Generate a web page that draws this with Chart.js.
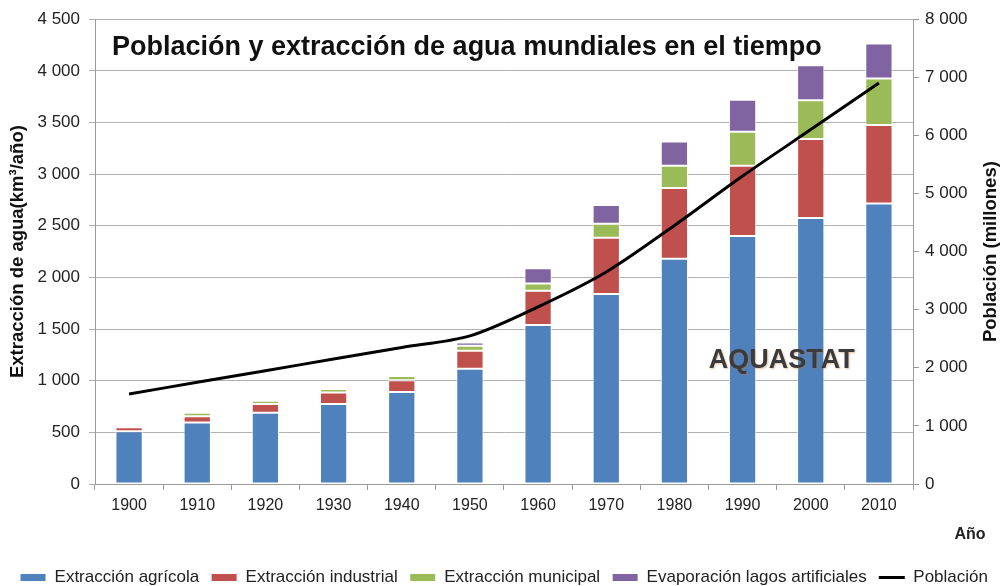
<!DOCTYPE html>
<html lang="es">
<head>
<meta charset="UTF-8">
<title>Población y extracción de agua mundiales en el tiempo</title>
<script src="https://cdn.jsdelivr.net/npm/chart.js@4.4.1/dist/chart.umd.min.js"></script>
<style>
  html, body { margin: 0; padding: 0; background: #fff; }
  #wrap { width: 1008px; height: 586px; }
</style>
</head>
<body>
<div id="wrap"><canvas id="graph" width="1008" height="586"></canvas></div>
<script>
// values (km3/año and millones)
const years = ['1900','1910','1920','1930','1940','1950','1960','1970','1980','1990','2000','2010'];
const agricola   = [510, 595, 690, 775, 890, 1115, 1540, 1840, 2180, 2400, 2575, 2715];
const industrial = [40, 60, 85, 110, 115, 176, 330, 545, 685, 680, 765, 760];
const municipal  = [0, 35, 30, 35, 40, 48, 70, 135, 215, 330, 375, 450];
const evaporacion = [0, 5, 5, 5, 5, 32, 150, 180, 235, 310, 340, 340];
const poblacion  = [1550, 1750, 1950, 2150, 2350, 2550, 3050, 3650, 4450, 5300, 6100, 6900];

const FONT = "'Liberation Sans', Arial, sans-serif";
const fmt = v => String(v).replace(/\B(?=(\d{3})+(?!\d))/g, ' ');

// title, watermark, right axis title and "Año" drawn by hand
const textPlugin = {
  id: 'extraText',
  afterInit(chart) {
    // legend adds 10px of empty space under the row, drop it
    const fit = chart.legend.fit.bind(chart.legend);
    chart.legend.fit = function () { fit(); this.height -= 10; };
  },
  afterDatasetsDraw(chart) {
    const ctx = chart.ctx, a = chart.chartArea;
    const x = chart.scales.x, y = chart.scales.y, y1 = chart.scales.y1;
    ctx.save();
    ctx.fillStyle = '#111';
    ctx.font = 'bold 27px ' + FONT;
    ctx.textBaseline = 'middle';
    ctx.textAlign = 'left';
    ctx.fillText('Población y extracción de agua mundiales en el tiempo', a.left + 17, y.getPixelForValue(4230));

    ctx.font = 'bold 27px ' + FONT;
    ctx.textAlign = 'center';
    ctx.fillStyle = '#3b3b3b';
    ctx.shadowColor = 'rgba(190,120,50,0.45)';
    ctx.shadowBlur = 2;
    ctx.shadowOffsetX = 1;
    ctx.shadowOffsetY = 1;
    const ax = (x.getPixelForValue(9) + x.getPixelForValue(10)) / 2 + 5;
    ctx.fillText('AQUASTAT', ax, y.getPixelForValue(1200));
    ctx.restore();

    ctx.save();
    ctx.font = 'bold 16px ' + FONT;
    ctx.fillStyle = '#222';
    ctx.textAlign = 'center';
    ctx.textBaseline = 'middle';
    ctx.fillText('Año', a.right + 57, a.bottom + 51);

    ctx.font = 'bold 18.5px ' + FONT;
    ctx.fillStyle = '#111';
    ctx.translate(y1.right - 17, (a.top + a.bottom) / 2);
    ctx.rotate(-Math.PI / 2);
    ctx.fillText('Población (millones)', 0, 0);
    ctx.restore();
  }
};

const barBase = {
  type: 'bar',
  yAxisID: 'y',
  stack: 'agua',
  borderColor: 'rgba(255,255,255,0.95)',
  borderWidth: 1,
  borderSkipped: false,
  pointStyle: 'rect'
};

const ctx = document.getElementById('graph').getContext('2d');
const myChart = new Chart(ctx, {
  data: {
    labels: years,
    datasets: [
      Object.assign({}, barBase, { label: 'Extracción agrícola', data: agricola, backgroundColor: '#4F81BD' }),
      Object.assign({}, barBase, { label: 'Extracción industrial', data: industrial, backgroundColor: '#C0504D' }),
      Object.assign({}, barBase, { label: 'Extracción municipal', data: municipal, backgroundColor: '#9BBB59' }),
      Object.assign({}, barBase, { label: 'Evaporación lagos artificiales', data: evaporacion, backgroundColor: '#8064A2' }),
      {
        type: 'line',
        label: 'Población',
        data: poblacion,
        yAxisID: 'y1',
        borderColor: '#000',
        backgroundColor: '#000',
        borderWidth: 3,
        pointRadius: 0,
        pointStyle: 'line',
        tension: 0.3,
        order: -1
      }
    ]
  },
  options: {
    responsive: false,
    animation: false,
    layout: { padding: { top: 12, left: 0, right: 0, bottom: 0 } },
    datasets: { bar: { categoryPercentage: 1, barPercentage: 0.4 } },
    plugins: {
      tooltip: { enabled: false },
      legend: {
        position: 'bottom',
        labels: {
          usePointStyle: true,
          pointStyleWidth: 26,
          boxHeight: 8,
          padding: 12,
          color: '#222',
          font: { family: FONT, size: 17 },
          sort: (a, b) => a.datasetIndex - b.datasetIndex
        }
      }
    },
    scales: {
      x: {
        stacked: true,
        grid: { offset: true, drawOnChartArea: false, color: '#9a9a9a', tickLength: 6 },
        border: { color: '#9a9a9a' },
        ticks: { color: '#222', font: { family: FONT, size: 16 }, padding: 6 },
        afterFit: s => { s.height = 73; }
      },
      y: {
        stacked: true,
        position: 'left',
        min: 0, max: 4500,
        grid: { color: '#b0b0b0', tickLength: 6 },
        border: { color: '#9a9a9a' },
        ticks: { stepSize: 500, color: '#222', font: { family: FONT, size: 17 }, padding: 9, callback: v => fmt(v) },
        title: { display: true, text: 'Extracción de agua(km³/año)', color: '#111', font: { family: FONT, size: 18.5, weight: 'bold' }, padding: { top: 7, bottom: 0 } },
        afterFit: s => { s.width = 95; }
      },
      y1: {
        position: 'right',
        min: 0, max: 8000,
        grid: { drawOnChartArea: false, color: '#9a9a9a', tickLength: 6 },
        border: { color: '#9a9a9a' },
        ticks: { stepSize: 1000, color: '#222', font: { family: FONT, size: 17 }, padding: 6, callback: v => fmt(v) },
        afterFit: s => { s.width = 95; }
      }
    }
  },
  plugins: [textPlugin]
});
</script>
</body>
</html>
